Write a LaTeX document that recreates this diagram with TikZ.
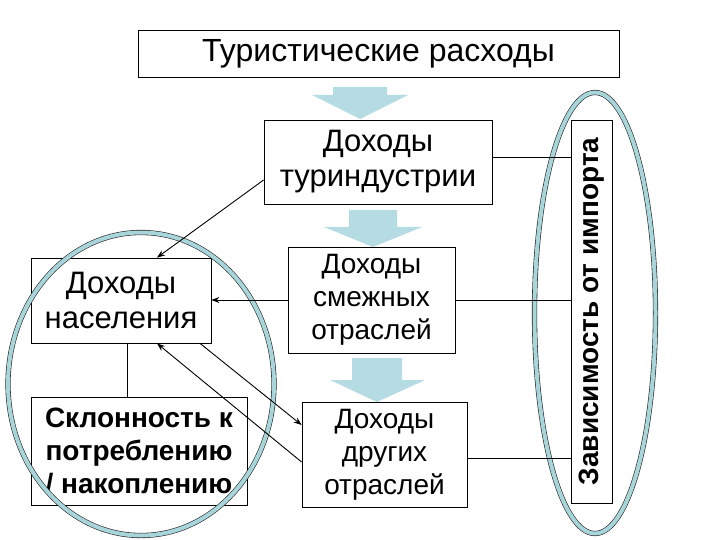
\documentclass[tikz,border=0pt]{standalone}
\usepackage{fontspec}
\usepackage{graphicx}
\setmainfont{Liberation Sans}
\usetikzlibrary{arrows.meta,calc}
\definecolor{arrowblue}{HTML}{B4DCE2}
\definecolor{ringblue}{HTML}{A8D5DA}
\begin{document}
\begin{tikzpicture}[x=1pt,y=-1pt,
  box/.style={draw=black,line width=0.8pt,rectangle,inner sep=0pt,align=center,font=\fontsize{31}{35}\selectfont},
  smallbox/.style={box,font=\fontsize{28}{33}\selectfont},
  boldbox/.style={box,font=\bfseries\fontsize{28}{33}\selectfont},
  ring/.style={draw=black!85,line width=0.6pt,double=ringblue,double distance=4pt},
  conn/.style={draw=black,line width=0.9pt},
  arr/.style={conn,-{Stealth[length=8pt,width=6pt]}},
  blockarrow/.style={fill=arrowblue,draw=none}]
\useasboundingbox (0,0) rectangle (720,540);

% boxes
\node[box,minimum width=481pt,minimum height=47pt,font=\fontsize{32}{36}\selectfont] (title) at (378.5,53.5) {Туристические расходы};
\node[box,minimum width=228pt,minimum height=84pt] (turind) at (378,162) {Доходы\\туриндустрии};
\node[smallbox,minimum width=167pt,minimum height=106pt] (smezh) at (371.5,300) {Доходы\\смежных\\отраслей};
\node[smallbox,minimum width=165pt,minimum height=105pt] (drugih) at (384.5,454.5) {Доходы\\других\\отраслей};
\node[box,minimum width=180pt,minimum height=85pt] (nasel) at (121,300.5) {Доходы\\населения};
\node[boldbox,minimum width=216pt,minimum height=108pt] (sklon) at (139,451) {Склонность к\\потреблению\\/ накоплению};
\node[box,minimum width=41pt,minimum height=383pt,font=\bfseries\fontsize{28}{30}\selectfont] (import) at (591.5,311.5) {\rotatebox{90}{Зависимость от импорта}};

% block arrows
\fill[blockarrow] (333,87) -- (387,87) -- (387,95) -- (408,95) -- (360,119) -- (312,95) -- (333,95) -- cycle;
\fill[blockarrow] (349,210) -- (397,210) -- (397,227) -- (422,227) -- (373,247) -- (324,227) -- (349,227) -- cycle;
\fill[blockarrow] (352,358) -- (402,358) -- (402,380) -- (425,380) -- (377,402) -- (330,380) -- (352,380) -- cycle;

% rings
\draw[ring] (595,313) ellipse [x radius=60.5pt, y radius=220.5pt];
\draw[ring] (141,384) ellipse [x radius=133pt, y radius=151.5pt];

% connectors
\draw[conn] ([yshift=5pt]turind.east) -- ([yshift=5pt]turind.east -| import.west);
\draw[conn] (smezh.east) -- (smezh.east -| import.west);
\draw[conn] ([yshift=-3.5pt]drugih.east) -- ([yshift=-3.5pt]drugih.east -| import.west);
\draw[arr] ([yshift=-18pt]turind.west) -- ([xshift=36pt]nasel.north);
\draw[arr] (smezh.west) -- (smezh.west -| nasel.east);
\draw[arr] ([xshift=79pt]nasel.south) -- ([yshift=29.5pt]drugih.west);
\draw[arr] ([yshift=-7.5pt]drugih.west) -- ([xshift=36pt]nasel.south);
\draw[conn] ([xshift=6pt]nasel.south) -- ([xshift=6pt]nasel.south |- sklon.north);
\end{tikzpicture}
\end{document}
